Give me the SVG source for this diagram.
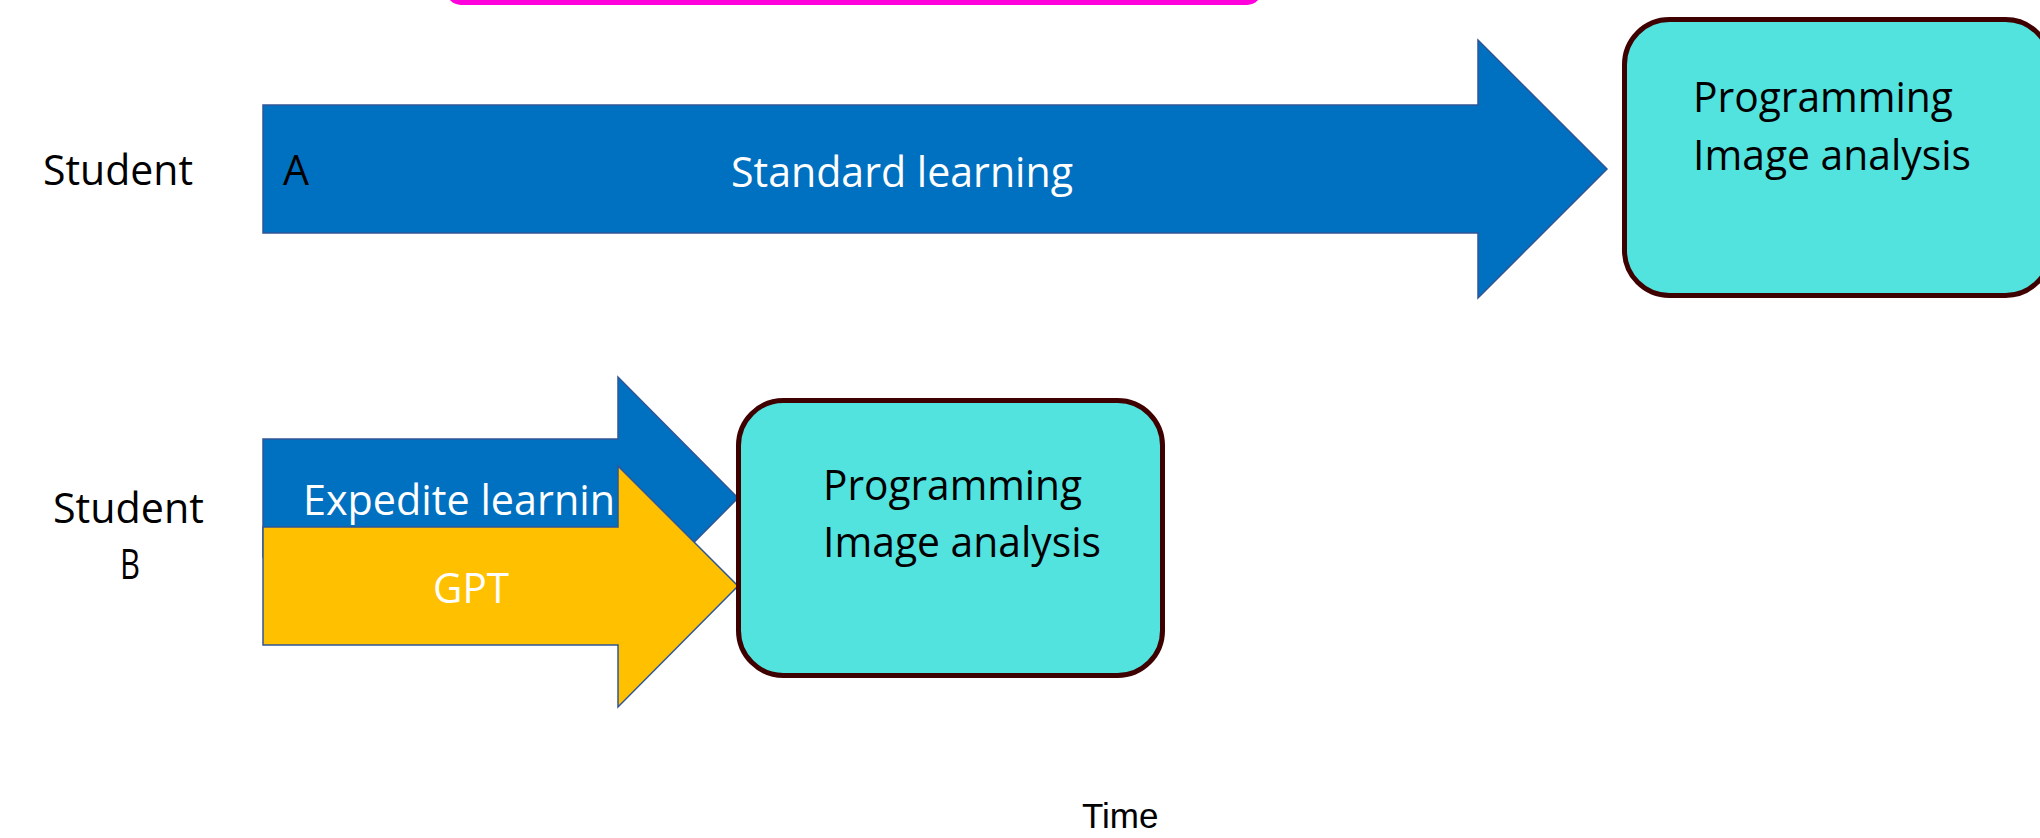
<svg xmlns="http://www.w3.org/2000/svg" width="2040" height="838" viewBox="0 0 2040 838">
  <style>
    .lbl { font-family: "Open Sans", "Noto Sans", sans-serif; font-size: 42px; }
    .dark { fill: #000000; }
    .light { fill: #ffffff; }
    .arrow { stroke: #2F5597; stroke-width: 1.5; stroke-linejoin: miter; }
    .blue { fill: #0070C0; }
    .gold { fill: #FFC000; }
    .goal { fill: #52E3DF; stroke: #3F0000; stroke-width: 5; }
    .time { font-family: "Liberation Sans", Arial, sans-serif; font-size: 35px; fill: #000000; }
  </style>

  <!-- banner edge along the top -->
  <g id="banner">
    <rect x="446" y="-60" width="816" height="65" rx="15" ry="15" fill="#FF00DD"/>
  </g>

  <!-- row labels -->
  <g id="student-a-label">
    <text class="lbl dark" x="43" y="185" textLength="150" lengthAdjust="spacingAndGlyphs">Student</text>
  </g>
  <g id="student-b-label">
    <text class="lbl dark" x="53" y="523" textLength="151" lengthAdjust="spacingAndGlyphs">Student</text>
    <text class="lbl dark" x="120" y="579" textLength="20" lengthAdjust="spacingAndGlyphs">B</text>
  </g>

  <!-- connectors: block arrows along the time axis -->
  <g id="connectors">
    <g id="standard-learning">
      <path class="arrow blue" d="M263,105 H1478 V40 L1607,169 L1478,298 V233 H263 Z"/>
      <text class="lbl dark" x="283" y="185" textLength="26" lengthAdjust="spacingAndGlyphs">A</text>
      <text class="lbl light" x="731" y="187" textLength="342" lengthAdjust="spacingAndGlyphs">Standard learning</text>
    </g>
    <g id="expedite-learning">
      <path class="arrow blue" d="M263,439 H618 V377 L738,498 L618,619 V557 H263 Z"/>
      <text class="lbl light" x="303" y="515" textLength="312" lengthAdjust="spacingAndGlyphs">Expedite learnin</text>
    </g>
    <g id="gpt">
      <path class="arrow gold" d="M263,527 H618 V466 L738,586 L618,707 V645 H263 Z"/>
      <text class="lbl light" x="433" y="603" textLength="76" lengthAdjust="spacingAndGlyphs">GPT</text>
    </g>
  </g>

  <!-- outcome boxes -->
  <g id="outcome-a">
    <rect class="goal" x="1624.5" y="19.5" width="426" height="276" rx="45" ry="45"/>
    <text class="lbl dark" x="1693" y="112" textLength="260" lengthAdjust="spacingAndGlyphs">Programming</text>
    <text class="lbl dark" x="1693" y="170" textLength="278" lengthAdjust="spacingAndGlyphs">Image analysis</text>
  </g>
  <g id="outcome-b">
    <rect class="goal" x="738.5" y="400.5" width="424" height="275" rx="45" ry="45"/>
    <text class="lbl dark" x="823" y="500" textLength="259" lengthAdjust="spacingAndGlyphs">Programming</text>
    <text class="lbl dark" x="823" y="557" textLength="278" lengthAdjust="spacingAndGlyphs">Image analysis</text>
  </g>

  <!-- axis caption -->
  <g id="time-label">
    <text class="time" x="1082" y="828">Time</text>
  </g>
</svg>
